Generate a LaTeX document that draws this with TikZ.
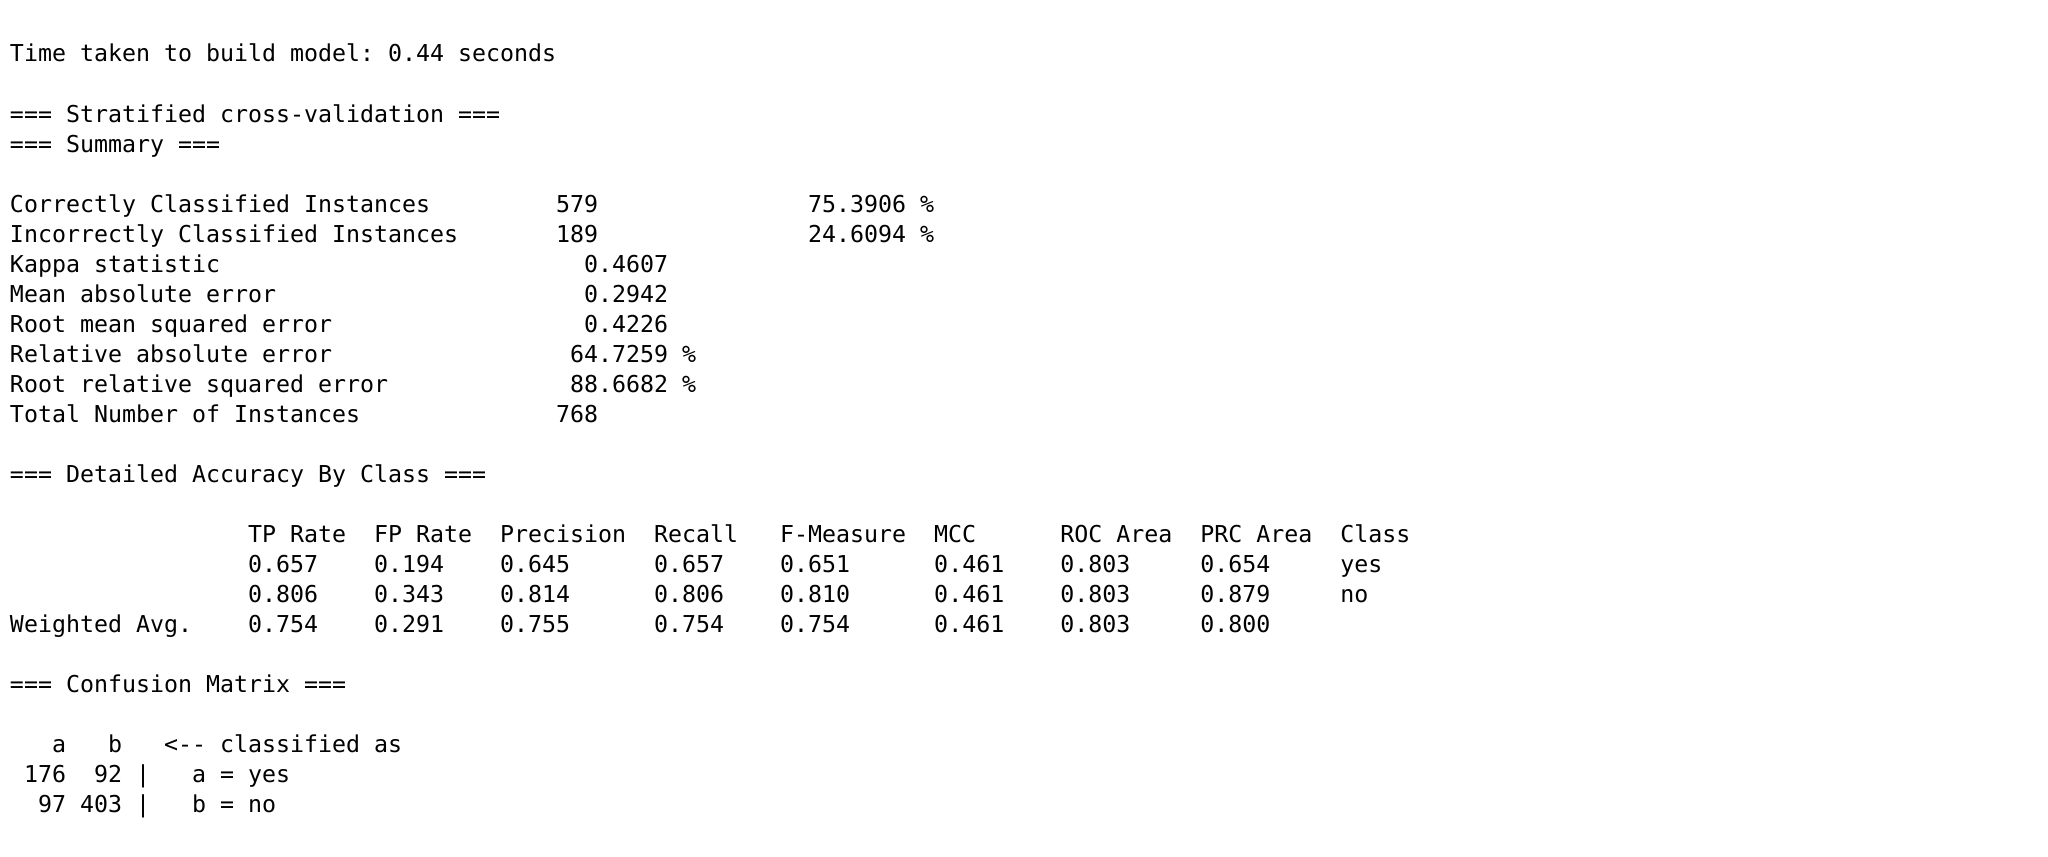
\documentclass[tikz,border=0pt]{standalone}
\usepackage{fontspec}
\setmonofont{DejaVu Sans Mono}
\tikzset{
  outline/.style={anchor=base west, inner sep=0pt, outer sep=0pt,
    font=\ttfamily\fontsize{11.63}{14}\selectfont\frenchspacing},
}
\begin{document}
\begin{tikzpicture}[x=0.5pt,y=-0.5pt]
			\fill[white] (0,0) rectangle (2048,856);
			\useasboundingbox (0,0) rectangle (2048,856);
			% summary block
			\node[outline] (time)   at (10, 62+30*0)  {Time taken to build model: 0.44 seconds};
			\node[outline] (strat)  at (10, 62+30*2)  {=== Stratified cross-validation ===};
			\node[outline] (summ)   at (10, 62+30*3)  {=== Summary ===};
			\node[outline] (corr)   at (10, 62+30*5)  {Correctly Classified Instances~~~~~~~~~579~~~~~~~~~~~~~~~75.3906 \%};
			\node[outline] (incorr) at (10, 62+30*6)  {Incorrectly Classified Instances~~~~~~~189~~~~~~~~~~~~~~~24.6094 \%};
			\node[outline] (kappa)  at (10, 62+30*7)  {Kappa statistic~~~~~~~~~~~~~~~~~~~~~~~~~~0.4607};
			\node[outline] (mae)    at (10, 62+30*8)  {Mean absolute error~~~~~~~~~~~~~~~~~~~~~~0.2942};
			\node[outline] (rmse)   at (10, 62+30*9)  {Root mean squared error~~~~~~~~~~~~~~~~~~0.4226};
			\node[outline] (rae)    at (10, 62+30*10) {Relative absolute error~~~~~~~~~~~~~~~~~64.7259 \%};
			\node[outline] (rrse)   at (10, 62+30*11) {Root relative squared error~~~~~~~~~~~~~88.6682 \%};
			\node[outline] (total)  at (10, 62+30*12) {Total Number of Instances~~~~~~~~~~~~~~768};
			% accuracy by class
			\node[outline] (detail) at (10, 62+30*14) {=== Detailed Accuracy By Class ===};
			\node[outline] (head)   at (10, 62+30*16) {~~~~~~~~~~~~~~~~~TP Rate~~FP Rate~~Precision~~Recall~~~F-Measure~~MCC~~~~~~ROC Area~~PRC Area~~Class};
			\node[outline] (yes)    at (10, 62+30*17) {~~~~~~~~~~~~~~~~~0.657~~~~0.194~~~~0.645~~~~~~0.657~~~~0.651~~~~~~0.461~~~~0.803~~~~~0.654~~~~~yes};
			\node[outline] (no)     at (10, 62+30*18) {~~~~~~~~~~~~~~~~~0.806~~~~0.343~~~~0.814~~~~~~0.806~~~~0.810~~~~~~0.461~~~~0.803~~~~~0.879~~~~~no};
			\node[outline] (wavg)   at (10, 62+30*19) {Weighted Avg.~~~~0.754~~~~0.291~~~~0.755~~~~~~0.754~~~~0.754~~~~~~0.461~~~~0.803~~~~~0.800};
			% confusion matrix
			\node[outline] (conf)   at (10, 62+30*21) {=== Confusion Matrix ===};
			\node[outline] (mhead)  at (10, 62+30*23) {~~~a~~~b~~~<-- classified as};
			\node[outline] (mrowa)  at (10, 62+30*24) {~176~~92~|~~~a = yes};
			\node[outline] (mrowb)  at (10, 62+30*25) {~~97~403~|~~~b = no};
		\end{tikzpicture}
\end{document}
